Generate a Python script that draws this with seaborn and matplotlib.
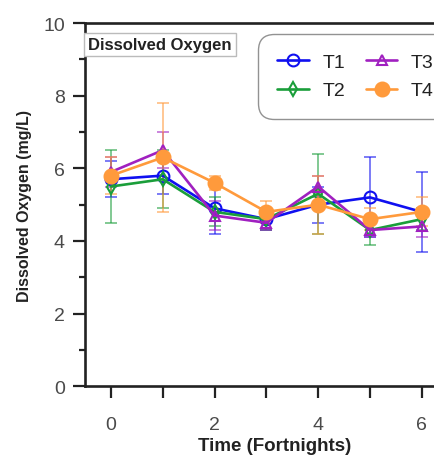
import matplotlib
matplotlib.use("Agg")
from matplotlib import pyplot as plt
from matplotlib.ticker import MultipleLocator
import numpy as np
import pandas as pd
import seaborn as sns

# Dissolved oxygen readings per treatment, fortnights 0..6
time = [0, 1, 2, 3, 4, 5, 6]
t1 = [5.7, 5.8, 4.9, 4.6, 5.0, 5.2, 4.8]
t1_err = [0.5, 0.5, 0.7, 0.3, 0.5, 1.1, 1.1]
t2 = [5.5, 5.7, 4.8, 4.6, 5.3, 4.3, 4.6]
t2_err = [1.0, 0.8, 0.4, 0.3, 1.1, 0.4, 0.3]
t3 = [5.9, 6.5, 4.7, 4.5, 5.5, 4.3, 4.4]
t3_err = [0.4, 0.5, 0.4, 0.2, 0.3, 0.2, 0.3]
t4 = [5.8, 6.3, 5.6, 4.8, 5.0, 4.6, 4.8]
t4_err = [0.5, 1.5, 0.2, 0.3, 0.8, 0.3, 0.4]

names = ["T1", "T2", "T3", "T4"]
means = [t1, t2, t3, t4]
errs = [t1_err, t2_err, t3_err, t4_err]

colors = {"T1": "#1010f0", "T2": "#1a9e3a", "T3": "#a020c0", "T4": "#ff9a3c"}
markers = {"T1": "o", "T2": "d", "T3": "^", "T4": "o"}
msizes = {"T1": 8.5, "T2": 7, "T3": 7.5, "T4": 10}

df = pd.DataFrame({
    "time": time * 4,
    "value": sum(means, []),
    "err": sum(errs, []),
    "group": [n for n in names for _ in time],
})

sns.set_style("ticks")
plt.rcParams["font.family"] = ["Liberation Sans", "DejaVu Sans"]

fig = plt.figure(figsize=(4.34, 4.56), dpi=100)
ax = fig.add_axes([0.196, 0.151, 0.8355, 0.796])

for n in names:
    sub = df[df["group"] == n]
    c = colors[n]
    ax.errorbar(sub["time"], sub["value"], yerr=sub["err"], fmt="none",
                ecolor=c, alpha=0.55, elinewidth=1.4, capsize=4, capthick=1.4, zorder=2)
    filled = n == "T4"
    sns.lineplot(data=sub, x="time", y="value", ax=ax, color=c, lw=1.9,
                 marker=markers[n], markersize=msizes[n],
                 markerfacecolor=c if filled else "none",
                 markeredgecolor=c, markeredgewidth=1.5, label=n, zorder=3)

ax.set_xlim(-0.5, 6.5)
ax.set_ylim(0, 10)
ax.set_xticks(time)
ax.set_xticklabels([str(t) if t % 2 == 0 else "" for t in time])
ax.yaxis.set_major_locator(MultipleLocator(2))
ax.yaxis.set_minor_locator(MultipleLocator(1))
ax.tick_params(axis="both", which="major", length=8.5, width=1.6, labelsize=14,
               labelcolor="#4a4a4a", color="#222222")
ax.tick_params(axis="x", which="major", pad=13)
ax.tick_params(axis="y", which="major", pad=6)
ax.tick_params(axis="y", which="minor", length=4.5, width=1.6, color="#222222")
for s in ax.spines.values():
    s.set_linewidth(1.9)
    s.set_color("#222222")

ax.set_xlabel("Time (Fortnights)", fontsize=13.5, fontweight="bold", color="#222222")
ax.set_ylabel("Dissolved Oxygen (mg/L)", fontsize=11.5, fontweight="bold", color="#222222")
ax.xaxis.set_label_coords(0.524, -0.14)
ax.yaxis.set_label_coords(-0.146, 0.5)

ax.text(0.008, 0.962, "Dissolved Oxygen", transform=ax.transAxes, fontsize=12,
        fontweight="bold", va="top", ha="left", color="#222222",
        bbox=dict(boxstyle="square,pad=0.25", fc="white", ec="#bbbbbb", lw=1))

leg = ax.legend(ncol=2, loc="upper left", bbox_to_anchor=(258 / 434, 1 - 35 / 456),
                bbox_transform=fig.transFigure, borderaxespad=0, fontsize=14,
                frameon=True, fancybox=True, edgecolor="#777777", handlelength=1.6,
                handletextpad=0.7, columnspacing=1.1, borderpad=1.0, labelspacing=0.55)
leg.get_frame().set_linewidth(1.0)
leg.get_frame().set_boxstyle("round,pad=0,rounding_size=0.8")
for t in leg.get_texts():
    t.set_color("#222222")

fig.savefig("out.png", dpi=100)
